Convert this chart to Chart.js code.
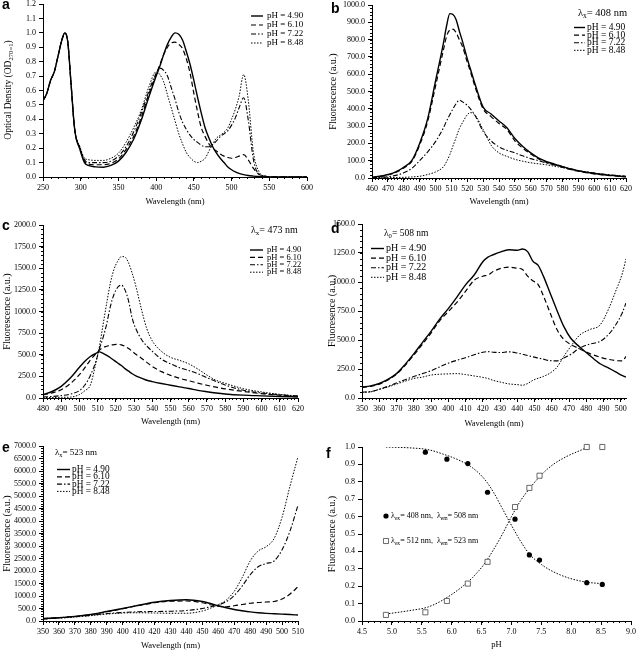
<!DOCTYPE html>
<html lang="en">
<head>
<meta charset="UTF-8">
<title>Absorbance and fluorescence vs pH</title>
<script src="https://cdn.jsdelivr.net/npm/chart.js"></script>
<style>
  html, body { margin: 0; padding: 0; background: #fff; overflow: hidden; }
  body { position: relative; width: 638px; height: 650px; }
  canvas { position: absolute; }
</style>
</head>
<body>
<script>
// ---------- data ----------
const phLabels = ['pH = 4.90', 'pH = 6.10', 'pH = 7.22', 'pH = 8.48'];

// a: absorbance, normalised to OD(270)=1
const absWl = [250,255,260,265,270,275,279,283,287,292,299,305,310,320,330,340,350,360,370,380,390,400,405,410,415,420,425,430,435,440,445,450,455,460,465,470,475,480,485,490,495,500,505,510,516,522,529,536,545,560,580,600];
const abs490 = [0.53,0.58,0.67,0.73,0.84,0.95,1.0,0.93,0.66,0.33,0.19,0.10,0.08,0.07,0.068,0.08,0.11,0.17,0.26,0.39,0.55,0.70,0.77,0.85,0.92,0.97,1.0,0.99,0.95,0.87,0.78,0.67,0.55,0.44,0.34,0.27,0.21,0.165,0.13,0.10,0.07,0.05,0.035,0.025,0.016,0.01,0.006,0.003,0.001,0,0,0];
const abs610 = [0.53,0.58,0.67,0.73,0.84,0.95,1.0,0.93,0.66,0.33,0.20,0.11,0.09,0.085,0.085,0.095,0.125,0.19,0.28,0.41,0.57,0.71,0.78,0.85,0.90,0.93,0.935,0.92,0.89,0.82,0.72,0.58,0.45,0.34,0.28,0.23,0.20,0.18,0.16,0.145,0.135,0.13,0.135,0.145,0.155,0.12,0.06,0.02,0.005,0.001,0,0];
const abs722 = [0.53,0.58,0.67,0.73,0.84,0.95,1.0,0.93,0.66,0.33,0.20,0.12,0.10,0.10,0.10,0.11,0.145,0.21,0.31,0.44,0.59,0.72,0.755,0.74,0.70,0.62,0.54,0.45,0.38,0.33,0.29,0.26,0.24,0.22,0.21,0.21,0.225,0.25,0.28,0.30,0.32,0.36,0.41,0.48,0.55,0.40,0.12,0.02,0.005,0,0,0];
const abs848 = [0.53,0.58,0.67,0.73,0.84,0.95,1.0,0.93,0.66,0.33,0.21,0.13,0.12,0.115,0.115,0.13,0.165,0.24,0.34,0.46,0.62,0.73,0.71,0.66,0.57,0.48,0.39,0.30,0.23,0.17,0.135,0.11,0.10,0.11,0.13,0.18,0.23,0.27,0.29,0.31,0.34,0.40,0.47,0.56,0.71,0.54,0.17,0.04,0.005,0,0,0];
const absXTicks = [250,300,350,400,450,500,550,600];
const absYTicks = [0,0.1,0.2,0.3,0.4,0.5,0.6,0.7,0.8,0.9,1.0,1.1,1.2];

// b: emission, excitation 408 nm
const em408Wl = [460,465,470,475,480,485,490,495,500,505,507,509,511,513,515,517,520,522,525,530,535,540,545,550,555,560,565,570,575,580,585,590,595,600,605,610,615,620];
const em408_490 = [4,10,20,35,62,100,200,340,560,780,880,950,945,915,850,790,690,630,540,410,370,330,290,228,182,145,115,95,80,66,52,42,33,26,20,15,11,8];
const em408_610 = [4,9,18,32,58,95,190,325,530,740,820,855,860,840,800,760,670,615,525,400,355,315,280,215,172,138,110,90,76,62,49,39,31,24,18,14,10,7];
const em408_722 = [1,3,7,15,30,55,100,150,210,290,330,365,400,430,450,440,420,400,360,270,215,180,160,145,128,112,100,87,76,65,53,43,35,28,23,18,14,10];
const em408_848 = [0,1,2,3,4,6,10,20,35,65,95,135,185,235,285,320,365,378,362,280,190,145,125,108,97,88,82,76,68,60,50,42,35,28,22,17,13,9];
const em408XTicks = [460,470,480,490,500,510,520,530,540,550,560,570,580,590,600,610,620];
const em408YTicks = [0,100,200,300,400,500,600,700,800,900,1000];

// c: emission, excitation 473 nm
const em473Wl = [480,485,490,495,500,503,506,509,511,513,515,517,519,521,523,525,527,529,531,534,537,540,545,550,555,560,565,570,575,580,590,600,610,620];
const em473_490 = [40,75,135,230,355,425,480,515,533,515,492,465,435,405,375,340,310,280,255,230,205,190,168,148,128,110,88,72,58,47,33,25,18,12];
const em473_610 = [35,60,95,165,270,350,440,510,555,585,598,610,618,620,615,598,572,540,505,460,412,365,305,262,228,200,172,147,125,106,76,50,32,20];
const em473_722 = [12,18,28,45,85,150,260,420,570,700,860,1060,1200,1280,1305,1250,1120,920,800,680,600,540,450,395,350,318,280,235,190,150,90,58,38,23];
const em473_848 = [5,5,8,10,40,85,150,400,600,850,1100,1330,1490,1580,1635,1630,1560,1440,1290,1030,800,660,540,470,435,395,335,265,205,170,108,70,42,23];
const em473XTicks = [480,490,500,510,520,530,540,550,560,570,580,590,600,610,620];
const em473YTicks = [0,250,500,750,1000,1250,1500,1750,2000];

// d: excitation, emission 508 nm
const ex508Wl = [350,355,360,365,370,375,380,385,390,395,400,405,410,415,420,423,426,430,435,440,443,446,449,452,455,459,463,467,471,476,482,488,493,497,501,503];
const ex508_490 = [95,105,125,160,210,290,380,478,575,680,770,870,975,1060,1175,1215,1235,1258,1278,1274,1284,1262,1180,1145,1055,905,755,615,515,442,367,295,257,225,192,180];
const ex508_610 = [90,100,120,155,205,282,370,462,560,665,745,825,920,1015,1050,1060,1090,1115,1128,1118,1108,1050,1010,980,885,735,590,505,462,425,383,352,333,322,320,360];
const ex508_722 = [50,55,75,100,130,158,185,210,235,268,300,325,347,372,395,400,395,392,398,388,378,366,355,345,335,322,320,345,375,430,465,488,550,630,740,820];
const ex508_848 = [50,53,75,95,120,145,168,180,198,205,208,210,202,190,178,168,152,138,122,115,110,125,152,170,185,215,265,360,445,540,590,630,770,920,1080,1200];
const ex508XTicks = [350,360,370,380,390,400,410,420,430,440,450,460,470,480,490,500];
const ex508YTicks = [0,250,500,750,1000,1250,1500];

// e: excitation, emission 523 nm
const ex523Wl = [350,360,370,380,390,400,410,420,430,440,450,455,460,465,470,475,480,485,490,495,500,505,510];
const ex523_490 = [100,135,185,265,380,500,630,750,820,850,780,700,610,530,460,410,365,330,305,290,275,260,240];
const ex523_610 = [95,130,180,255,370,490,620,730,790,800,730,650,590,570,610,660,710,740,760,780,880,1080,1373];
const ex523_722 = [80,120,170,230,300,340,370,380,390,420,500,570,640,773,1020,1400,1850,2170,2300,2400,2850,3600,4640];
const ex523_848 = [80,115,160,215,275,320,330,320,310,310,400,510,650,840,1190,1740,2400,2800,2970,3300,4150,5400,6573];
const ex523XTicks = [350,360,370,380,390,400,410,420,430,440,450,460,470,480,490,500,510];
const ex523YTicks = [0,500,1000,1500,2000,2500,3000,3500,4000,4500,5000,5500,6000,6500,7000];

// f: pH titration
const tit408PH = [5.56,5.92,6.27,6.60,7.06,7.30,7.47,8.26,8.52];
const tit408 = [0.97,0.93,0.905,0.74,0.585,0.38,0.35,0.22,0.21];
const tit512PH = [4.90,5.56,5.92,6.27,6.60,7.06,7.30,7.47,8.26,8.52];
const tit512 = [0.035,0.05,0.115,0.215,0.34,0.655,0.765,0.835,1.0,1.0];
const fitPH = [4.9,5.3,5.6,5.85,6.15,6.35,6.55,6.7,6.85,7.0,7.15,7.3,7.5,7.7,7.95,8.15,8.28,8.5];
const fit408 = [1.0,0.995,0.985,0.96,0.92,0.88,0.815,0.74,0.645,0.55,0.46,0.385,0.325,0.283,0.248,0.23,0.222,0.215];
const fit512 = [0.04,0.06,0.08,0.12,0.19,0.25,0.33,0.41,0.50,0.60,0.69,0.76,0.84,0.90,0.95,0.98,1.0,null];
const titXTicks = [4.5,5.0,5.5,6.0,6.5,7.0,7.5,8.0,8.5,9.0];
const titYTicks = [0,0.1,0.2,0.3,0.4,0.5,0.6,0.7,0.8,0.9,1.0];

// ---------- drawing helpers ----------
const SERIF = '"Liberation Serif", "Times New Roman", serif';
const SANS = '"Liberation Sans", Arial, sans-serif';
Chart.defaults.font.family = SERIF;
Chart.defaults.color = '#000';

const lineStyles = [
  { borderWidth: 1.4, borderDash: [] },
  { borderWidth: 1.2, borderDash: [5, 3] },
  { borderWidth: 1.1, borderDash: [5, 2, 1.5, 2] },
  { borderWidth: 1, borderDash: [1.5, 1.5] }
];

function xy(xs, ys) {
  return xs.map((x, i) => ({ x: x, y: ys[i] }));
}

function spectra(xs, series) {
  return series.map((ys, i) => Object.assign({
    label: phLabels[i],
    data: xy(xs, ys),
    borderColor: '#000',
    pointRadius: 0,
    fill: false,
    cubicInterpolationMode: 'monotone'
  }, lineStyles[i]));
}

// text with optional subscripts: parts = [[text, 'sub'?], ...]
function drawRich(ctx, parts, size, family, opts) {
  opts = opts || {};
  family = family || SERIF;
  const weight = opts.bold ? 'bold ' : '';
  const fonts = parts.map(p => weight + (p[1] === 'sub' ? size * 0.7 : size) + 'px ' + family);
  const widths = parts.map((p, i) => { ctx.font = fonts[i]; return ctx.measureText(p[0]).width; });
  const total = widths.reduce((a, b) => a + b, 0);
  let x = opts.center ? -total / 2 : 0;
  ctx.fillStyle = '#000';
  ctx.textAlign = 'left';
  ctx.textBaseline = opts.baseline || 'middle';
  parts.forEach((p, i) => {
    ctx.font = fonts[i];
    ctx.fillText(p[0], x, p[1] === 'sub' ? size * 0.3 : 0);
    x += widths[i];
  });
}

const notes = {
  id: 'notes',
  afterDraw(chart, args, o) {
    const ctx = chart.ctx;
    (o.items || []).forEach(n => {
      ctx.save();
      ctx.translate(n.x - o.ox, n.y - o.oy);
      if (n.rot) ctx.rotate(n.rot);
      drawRich(ctx, n.parts, n.size, n.family, n);
      ctx.restore();
    });
  }
};

const insetLegend = {
  id: 'insetLegend',
  afterDraw(chart, args, o) {
    if (!o.rows) return;
    const ctx = chart.ctx;
    o.rows.forEach((r, k) => {
      const ds = chart.data.datasets[r.ds];
      const x = o.x - o.ox, y = o.y + k * o.gap - o.oy;
      ctx.save();
      ctx.strokeStyle = ds.pointBorderColor || ds.borderColor;
      if (ds.showLine === false) {
        ctx.lineWidth = ds.pointBorderWidth || 1;
        ctx.fillStyle = ds.pointBackgroundColor;
        const s = ds.pointRadius * (ds.pointStyle === 'rect' ? Math.SQRT1_2 : 1);
        ctx.beginPath();
        if (ds.pointStyle === 'rect') ctx.rect(x - s, y - s, 2 * s, 2 * s);
        else ctx.arc(x, y, s, 0, Math.PI * 2);
        ctx.fill();
        if (ds.pointBorderWidth) ctx.stroke();
      } else {
        ctx.lineWidth = ds.borderWidth;
        ctx.setLineDash(ds.borderDash || []);
        ctx.beginPath();
        ctx.moveTo(x, y);
        ctx.lineTo(x + o.len, y);
        ctx.stroke();
        ctx.setLineDash([]);
      }
      ctx.translate(o.tx - o.ox, y);
      drawRich(ctx, r.parts || [[ds.label]], o.size);
      ctx.restore();
    });
  }
};

const minorTicks = {
  id: 'minorTicks',
  afterDraw(chart, args, o) {
    const ctx = chart.ctx, xs = chart.scales.x, ys = chart.scales.y, a = chart.chartArea;
    ctx.save();
    ctx.strokeStyle = '#000';
    ctx.lineWidth = 1;
    ctx.beginPath();
    if (o.x) {
      for (let v = xs.min; v <= xs.max + 1e-9; v += o.x) {
        const p = Math.round(xs.getPixelForValue(v)) + 0.5;
        ctx.moveTo(p, a.bottom); ctx.lineTo(p, a.bottom + 2);
      }
    }
    if (o.y) {
      for (let v = ys.min; v <= ys.max + 1e-9; v += o.y) {
        const p = Math.round(ys.getPixelForValue(v)) + 0.5;
        ctx.moveTo(a.left, p); ctx.lineTo(a.left - 2, p);
      }
    }
    ctx.stroke();
    ctx.restore();
  }
};

const TICK = 8, X_TITLE = 8.5, Y_TITLE = 10;

function panel(p) {
  const l = p.left, w = 319;
  const t = p.plot.top - 12;
  const h = Math.round(p.xTitleY + X_TITLE * 0.6 - t);
  const cv = document.createElement('canvas');
  cv.width = w; cv.height = h;
  cv.style.left = l + 'px';
  cv.style.top = t + 'px';
  document.body.appendChild(cv);

  const axis = (ticks, dec) => ({
    type: 'linear',
    min: ticks.min, max: ticks.max,
    afterBuildTicks: s => { s.ticks = ticks.values.map(v => ({ value: v })); },
    ticks: { font: { size: TICK }, maxRotation: 0, autoSkip: false, callback: v => v.toFixed(dec) },
    grid: { drawOnChartArea: false, tickLength: 4, color: '#000' },
    border: { color: '#000', width: 1 }
  });

  const x = axis(p.x, p.x.dec);
  x.ticks.padding = 2;
  x.title = { display: true, text: p.x.title, font: { size: X_TITLE }, padding: 0 };
  x.afterFit = s => { s.height = t + h - p.plot.bottom; };

  const y = axis(p.y, p.y.dec);
  y.ticks.padding = 3;
  y.title = {
    display: !!p.y.title, text: p.y.title || '', font: { size: Y_TITLE },
    padding: { top: p.yTitleX - l - Y_TITLE * 0.6, bottom: 0 }
  };
  y.afterFit = s => { s.width = p.plot.left - l; };

  return new Chart(cv, {
    type: 'line',
    data: { datasets: p.datasets },
    options: {
      responsive: false,
      animation: false,
      devicePixelRatio: 1,
      layout: { padding: { left: 0, top: p.plot.top - t, right: l + w - p.plot.right, bottom: 0 } },
      plugins: {
        legend: { display: false },
        tooltip: { enabled: false },
        notes: { ox: l, oy: t, items: p.notes },
        insetLegend: Object.assign({ ox: l, oy: t }, p.legend),
        minorTicks: p.minor || {}
      },
      scales: { x: x, y: y }
    },
    plugins: [minorTicks, notes, insetLegend]
  });
}

const letter = (ch, x, y) => ({ x: x, y: y, size: 14, family: SANS, bold: true, baseline: 'alphabetic', parts: [[ch]] });
const lambda = (sub, rest, x, y, size) => ({ x: x, y: y, size: size, parts: [['\u03bb'], [sub, 'sub'], [rest]] });
const four = [{ ds: 0 }, { ds: 1 }, { ds: 2 }, { ds: 3 }];

// ---------- panels ----------
panel({
  left: 0, xTitleY: 202, yTitleX: 8,
  plot: { left: 43, top: 4, right: 307, bottom: 177 },
  x: { min: 250, max: 600, values: absXTicks, dec: 0, title: 'Wavelength (nm)' },
  y: { min: 0, max: 1.2, values: absYTicks, dec: 1 },
  minor: { x: 10 },
  datasets: spectra(absWl, [abs490, abs610, abs722, abs848]),
  notes: [
    letter('a', 2, 9),
    { x: 8, y: 90, rot: -Math.PI / 2, size: 9.5, center: true,
      parts: [['Optical Density (OD'], ['270=1', 'sub'], [')']] }
  ],
  legend: { x: 251, len: 12, tx: 267, y: 16, gap: 9, size: 9, rows: four }
});

panel({
  left: 319, xTitleY: 202, yTitleX: 333,
  plot: { left: 372, top: 5, right: 626, bottom: 178 },
  x: { min: 460, max: 620, values: em408XTicks, dec: 0, title: 'Wavelength (nm)' },
  y: { min: 0, max: 1000, values: em408YTicks, dec: 1, title: 'Fluorescence (a.u.)' },
  minor: { x: 2, y: 20 },
  datasets: spectra(em408Wl, [em408_490, em408_610, em408_722, em408_848]),
  notes: [letter('b', 331, 13), lambda('x', '= 408 nm', 578, 13, 10.5)],
  legend: { x: 574, len: 11, tx: 587, y: 27.5, gap: 7.6, size: 9.5, rows: four }
});

panel({
  left: 0, xTitleY: 422, yTitleX: 7,
  plot: { left: 43, top: 225, right: 298, bottom: 398 },
  x: { min: 480, max: 620, values: em473XTicks, dec: 0, title: 'Wavelength (nm)' },
  y: { min: 0, max: 2000, values: em473YTicks, dec: 1, title: 'Fluorescence (a.u.)' },
  minor: { x: 2, y: 50 },
  datasets: spectra(em473Wl, [em473_490, em473_610, em473_722, em473_848]),
  notes: [letter('c', 2, 230), lambda('x', '= 473 nm', 251, 230, 10)],
  legend: { x: 250, len: 13, tx: 267, y: 250, gap: 7.4, size: 8.5, rows: four }
});

panel({
  left: 319, xTitleY: 424, yTitleX: 332,
  plot: { left: 362, top: 224, right: 626, bottom: 398 },
  x: { min: 350, max: 503, values: ex508XTicks, dec: 0, title: 'Wavelength (nm)' },
  y: { min: 0, max: 1500, values: ex508YTicks, dec: 1, title: 'Fluoresence (a.u.)' },
  minor: { x: 2, y: 50 },
  datasets: spectra(ex508Wl, [ex508_490, ex508_610, ex508_722, ex508_848]),
  notes: [letter('d', 331, 233), lambda('0', '= 508 nm', 384, 233, 9.5)],
  legend: { x: 371, len: 13, tx: 386, y: 248.5, gap: 9.6, size: 10, rows: four }
});

panel({
  left: 0, xTitleY: 646, yTitleX: 7,
  plot: { left: 43, top: 446, right: 298, bottom: 621 },
  x: { min: 350, max: 510, values: ex523XTicks, dec: 0, title: 'Wavelength (nm)' },
  y: { min: 0, max: 7000, values: ex523YTicks, dec: 1, title: 'Fluorescence (a.u.)' },
  minor: { x: 2, y: 100 },
  datasets: spectra(ex523Wl, [ex523_490, ex523_610, ex523_722, ex523_848]),
  notes: [letter('e', 2, 452), lambda('x', '= 523 nm', 55, 453, 9)],
  legend: { x: 57, len: 13, tx: 72, y: 469.5, gap: 7.3, size: 9.3, rows: four }
});

panel({
  left: 319, xTitleY: 645, yTitleX: 332,
  plot: { left: 362, top: 447, right: 631, bottom: 621 },
  x: { min: 4.5, max: 9.0, values: titXTicks, dec: 1, title: 'pH' },
  y: { min: 0, max: 1.0, values: titYTicks, dec: 1, title: 'Fluorescence (a.u.)' },
  minor: { x: 0.1 },
  datasets: [
    { label: 'ex408', data: xy(tit408PH, tit408), showLine: false, pointStyle: 'circle', clip: false,
      pointRadius: 2.6, pointBorderWidth: 0, pointBackgroundColor: '#000', borderColor: '#000' },
    { label: 'ex512', data: xy(tit512PH, tit512), showLine: false, pointStyle: 'rect', clip: false,
      pointRadius: 3.6, pointBorderWidth: 0.8, pointBackgroundColor: '#fff', pointBorderColor: '#444', borderColor: '#444' },
    { label: 'fit408', data: xy(fitPH, fit408), borderColor: '#000', borderWidth: 1, borderDash: [1.5, 1.5],
      pointRadius: 0, cubicInterpolationMode: 'monotone' },
    { label: 'fit512', data: xy(fitPH, fit512), borderColor: '#000', borderWidth: 1, borderDash: [1.5, 1.5],
      pointRadius: 0, cubicInterpolationMode: 'monotone' }
  ],
  notes: [letter('f', 326, 458)],
  legend: {
    x: 386, len: 0, tx: 391, y: 516, gap: 25, size: 8,
    rows: [
      { ds: 0, parts: [['\u03bb'], ['ex', 'sub'], ['= 408 nm,  \u03bb'], ['em', 'sub'], ['= 508 nm']] },
      { ds: 1, parts: [['\u03bb'], ['ex', 'sub'], ['= 512 nm,  \u03bb'], ['em', 'sub'], ['= 523 nm']] }
    ]
  }
});
</script>
</body>
</html>
